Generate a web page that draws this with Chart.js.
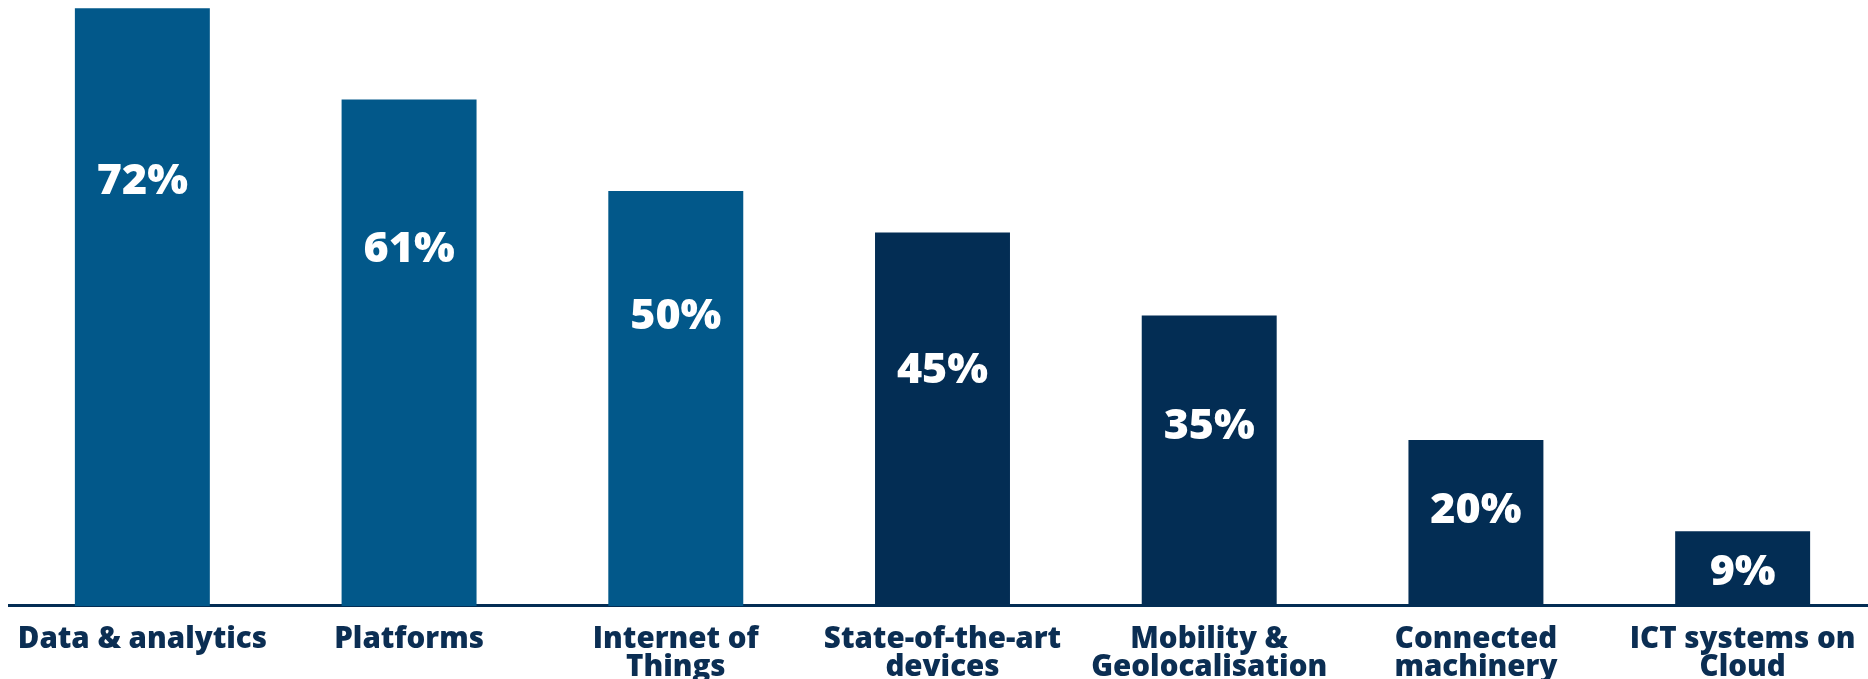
<!DOCTYPE html>
<html>
<head>
<meta charset="utf-8">
<script src="https://cdn.jsdelivr.net/npm/chart.js@4.4.0/dist/chart.umd.min.js"></script>
<style>
  html, body { margin: 0; padding: 0; background: #fff; overflow: hidden; }
  #wrap { position: absolute; left: 0; top: 0; width: 1880px; height: 702px; }
</style>
</head>
<body>
<div id="wrap"><canvas id="chart"></canvas></div>
<script>
// data
const categories = [
  ['Data & analytics'],
  ['Platforms'],
  ['Internet of', 'Things'],
  ['State-of-the-art', 'devices'],
  ['Mobility &', 'Geolocalisation'],
  ['Connected', 'machinery'],
  ['ICT systems on', 'Cloud']
];
const shares = [72, 61, 50, 45, 35, 20, 9];

const BLUE = '#02588a';
const NAVY = '#032d54';
const FONT = '"Open Sans", "DejaVu Sans", sans-serif';

// first three bars are the lighter blue
function isBlue(i) { return i < 3; }

// draws the white % labels inside the bars, a bit below the middle of the upper half
const barLabels = {
  id: 'barLabels',
  afterDatasetsDraw(chart) {
    const ctx = chart.ctx;
    const y = chart.scales.y;
    const meta = chart.getDatasetMeta(0);
    ctx.save();
    ctx.fillStyle = '#ffffff';
    ctx.font = '800 43px ' + FONT;
    ctx.textAlign = 'center';
    ctx.textBaseline = 'middle';
    meta.data.forEach((bar, i) => {
      const v = shares[i];
      const at = isBlue(i) ? v * 0.741 - 2.0 : v * 0.678 - 1.9;
      ctx.fillText(v + '%', bar.x, y.getPixelForValue(at) + 2);
    });
    ctx.restore();
  }
};

new Chart(document.getElementById('chart'), {
  type: 'bar',
  data: {
    labels: categories,
    datasets: [{
      data: shares,
      backgroundColor: shares.map((v, i) => isBlue(i) ? BLUE : NAVY),
      borderWidth: 0,
      categoryPercentage: 1,
      barPercentage: 0.506
    }]
  },
  options: {
    responsive: true,
    maintainAspectRatio: false,
    animation: false,
    layout: { padding: { left: 9, right: 4, top: 0, bottom: 0 } },
    plugins: { legend: { display: false }, tooltip: { enabled: false } },
    scales: {
      x: {
        grid: { display: false, drawTicks: false },
        border: { display: true, color: NAVY, width: 3 },
        ticks: {
          color: '#0b2e53',
          padding: 20,
          maxRotation: 0,
          autoSkip: false,
          font: { family: FONT, size: 29.5, weight: '800', lineHeight: 0.95 }
        },
        // labels fit inside their slots, don't let them squeeze the plot
        afterFit(scale) {
          scale.paddingLeft = 0;
          scale.paddingRight = 0;
        }
      },
      y: { display: false, min: 0, max: 73 }
    }
  },
  plugins: [barLabels]
});
</script>
</body>
</html>
